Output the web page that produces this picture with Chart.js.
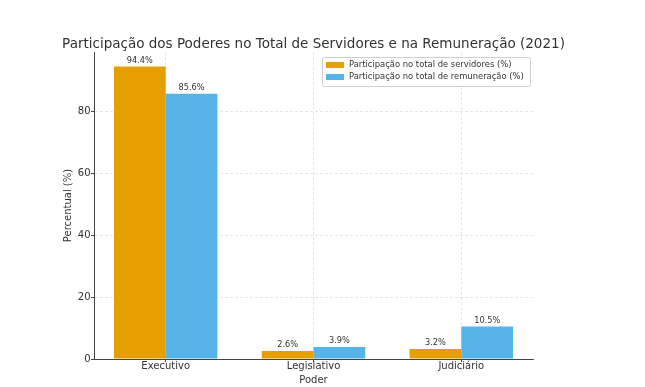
<!DOCTYPE html>
<html>
<head>
<meta charset="utf-8">
<script src="https://cdn.jsdelivr.net/npm/chart.js@4.4.1/dist/chart.umd.min.js"></script>
<style>
  html, body { margin: 0; padding: 0; background: #ffffff; }
  #wrap { width: 645px; height: 387px; }
</style>
</head>
<body>
<div id="wrap"><canvas id="c" width="645" height="387"></canvas></div>
<script>
const chartTitle = "Participação dos Poderes no Total de Servidores e na Remuneração (2021)";
const categories = ["Executivo", "Legislativo", "Judiciário"];
const seriesNames = ["Participação no total de servidores (%)", "Participação no total de remuneração (%)"];
const servidores = [94.4, 2.6, 3.2];
const remuneracao = [85.6, 3.9, 10.5];
const yTicks = [0, 20, 40, 60, 80];
const yMax = 99.12;
const colors = ["#E69F00", "#56B4E9"];

const FONT = "'DejaVu Sans', sans-serif";
const TEXT = "#333333";
const AXIS = "#444444";

const toPoints = arr => arr.map((v, i) => ({ x: i, y: v }));

const titlePlugin = {
  id: "customTitle",
  afterDraw(chart) {
    const ctx = chart.ctx;
    const a = chart.chartArea;
    ctx.save();
    ctx.font = "13.5px " + FONT;
    ctx.fillStyle = TEXT;
    ctx.textAlign = "center";
    ctx.textBaseline = "middle";
    ctx.fillText(chartTitle, (a.left + a.right) / 2, 44);
    ctx.restore();
  }
};

const labelPlugin = {
  id: "barLabels",
  afterDatasetsDraw(chart) {
    const ctx = chart.ctx;
    const series = [servidores, remuneracao];
    ctx.save();
    ctx.font = "8.2px " + FONT;
    ctx.fillStyle = TEXT;
    ctx.textAlign = "center";
    ctx.textBaseline = "bottom";
    chart.data.datasets.forEach((ds, di) => {
      const meta = chart.getDatasetMeta(di);
      meta.data.forEach((bar, i) => {
        ctx.fillText(series[di][i].toFixed(1) + "%", bar.x, bar.y - 2);
      });
    });
    ctx.restore();
  }
};

const legendPlugin = {
  id: "customLegend",
  afterDraw(chart) {
    const ctx = chart.ctx;
    const a = chart.chartArea;
    const x0 = 322, y0 = 57, w = a.right - 3 - x0, h = 29;
    ctx.save();
    ctx.fillStyle = "rgba(255,255,255,0.85)";
    ctx.strokeStyle = "#d0d0d0";
    ctx.lineWidth = 1;
    ctx.beginPath();
    if (ctx.roundRect) ctx.roundRect(x0 + 0.5, y0 + 0.5, w, h, 2); else ctx.rect(x0 + 0.5, y0 + 0.5, w, h);
    ctx.fill();
    ctx.stroke();
    ctx.font = "8.4px " + FONT;
    ctx.textBaseline = "middle";
    ctx.textAlign = "left";
    chart.data.datasets.forEach((ds, i) => {
      const cy = y0 + 8 + i * 12;
      ctx.fillStyle = ds.backgroundColor;
      ctx.fillRect(x0 + 4, cy - 3, 18, 6);
      ctx.fillStyle = TEXT;
      ctx.fillText(ds.label, x0 + 27, cy);
    });
    ctx.restore();
  }
};

new Chart(document.getElementById("c"), {
  type: "bar",
  data: {
    datasets: [
      { label: seriesNames[0], data: toPoints(servidores), backgroundColor: colors[0], categoryPercentage: 0.7, barPercentage: 1.0 },
      { label: seriesNames[1], data: toPoints(remuneracao), backgroundColor: colors[1], categoryPercentage: 0.7, barPercentage: 1.0 }
    ]
  },
  options: {
    responsive: false,
    animation: false,
    layout: { padding: { left: 0, right: 112, top: 52, bottom: 0 } },
    plugins: { legend: { display: false }, title: { display: false }, tooltip: { enabled: false } },
    scales: {
      x: {
        type: "linear",
        min: -0.485,
        max: categories.length - 1 + 0.485,
        offset: false,
        afterBuildTicks(s) { s.ticks = categories.map((c, i) => ({ value: i })); },
        grid: { offset: false, color: "#e0e0e0", lineWidth: 0.8, drawTicks: true, tickLength: 3, tickColor: AXIS, tickWidth: 1 },
        border: { display: true, color: AXIS, width: 1, dash: [3, 2] },
        ticks: { color: TEXT, font: { family: FONT, size: 10 }, padding: -2, maxRotation: 0, autoSkip: false,
                 callback: (v) => categories[Math.round(v)] },
        title: { display: true, text: "Poder", color: TEXT, font: { family: FONT, size: 10 }, padding: { top: 0, bottom: 1 } },
        afterFit(s) { s.height = 28; }
      },
      y: {
        min: 0,
        max: yMax,
        afterBuildTicks(s) { s.ticks = yTicks.map(v => ({ value: v })); },
        grid: { color: "#e0e0e0", lineWidth: 0.8, drawTicks: true, tickLength: 3, tickColor: AXIS, tickWidth: 1 },
        border: { display: true, color: AXIS, width: 1, dash: [3, 2] },
        ticks: { color: TEXT, font: { family: FONT, size: 10 }, padding: 0.5 },
        title: { display: true, text: "Percentual (%)", color: TEXT, font: { family: FONT, size: 10 }, padding: { top: 62, bottom: 0 } },
        afterFit(s) { s.width = 94; }
      }
    }
  },
  plugins: [titlePlugin, labelPlugin, legendPlugin]
});
</script>
</body>
</html>
